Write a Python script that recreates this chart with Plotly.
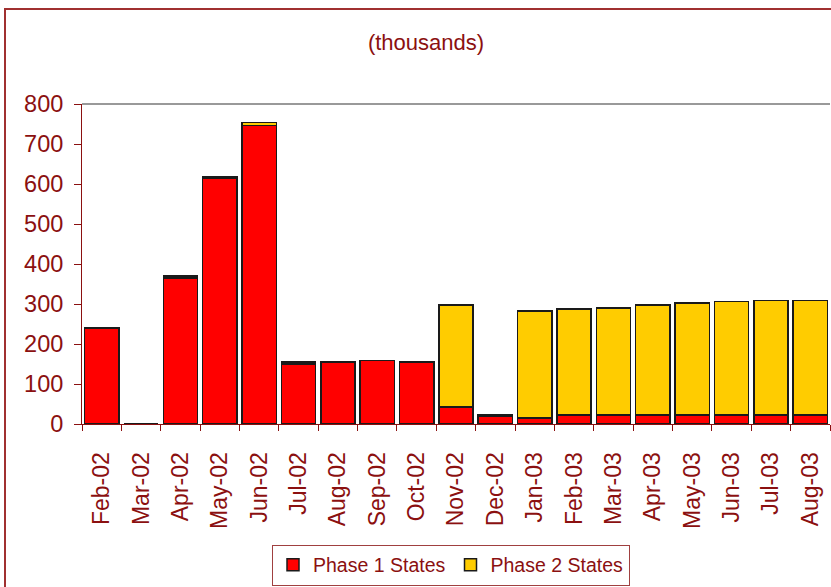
import plotly.graph_objects as go

months = ["Feb-02", "Mar-02", "Apr-02", "May-02", "Jun-02", "Jul-02", "Aug-02", "Sep-02",
          "Oct-02", "Nov-02", "Dec-02", "Jan-03", "Feb-03", "Mar-03", "Apr-03", "May-03",
          "Jun-03", "Jul-03", "Aug-03"]
phase1 = [240, 0, 365, 615, 746, 150, 155, 159, 155, 42, 19, 15, 22, 22, 22, 22, 22, 22, 22]
phase2 = [0, 0, 5, 4, 8, 5, 0, 0, 0, 256, 3, 268, 265, 268, 276, 280, 284, 287, 287]
y_ticks = [0, 100, 200, 300, 400, 500, 600, 700, 800]

TXT = "#8B1010"
FONT = "Liberation Sans, Arial, sans-serif"

fig = go.Figure()
fig.add_trace(go.Bar(x=months, y=phase1, name="Phase 1 States",
                     marker=dict(color="#FF0000", line=dict(color="#1a1a1a", width=1.5))))
fig.add_trace(go.Bar(x=months, y=phase2, name="Phase 2 States",
                     marker=dict(color="#FFCC00", line=dict(color="#1a1a1a", width=1.5))))

L, R, T, B = 82, 1, 104, 163
W, H = 831 - L - R, 587 - T - B

def px(x):
    return (x - L) / W

def py(y):
    return (587 - B - y) / H

fig.update_layout(
    width=831, height=587,
    barmode="stack", bargap=0.13,
    margin=dict(l=L, r=R, t=T, b=B, pad=0),
    paper_bgcolor="white", plot_bgcolor="white",
    font=dict(family=FONT, color=TXT, size=19),
    title=dict(text="(thousands)", x=426 / 831, xanchor="center", y=1 - 42 / 587, yanchor="middle",
               font=dict(size=22, color=TXT, family=FONT)),
    showlegend=True,
    legend=dict(orientation="h", traceorder="normal", x=px(451), xanchor="center", y=py(565),
                yanchor="middle", bordercolor="#A04040", borderwidth=1,
                font=dict(size=19.5, color=TXT), itemwidth=30),
    xaxis=dict(tickangle=-90, showline=True, linecolor=TXT, linewidth=1,
               ticks="outside", ticklen=6, tickcolor=TXT, tickson="boundaries",
               ticklabelstandoff=18,
               tickfont=dict(size=23, color=TXT), showgrid=False),
    yaxis=dict(range=[0, 800], tickvals=y_ticks, showline=True, linecolor=TXT, linewidth=1,
               ticks="outside", ticklen=7, tickcolor=TXT, showgrid=False, zeroline=False,
               ticklabelstandoff=6,
               tickfont=dict(size=23.5, color=TXT)),
    shapes=[
        dict(type="line", xref="paper", yref="paper", x0=0, x1=1, y0=1, y1=1,
             line=dict(color="#999999", width=2)),
        dict(type="rect", xref="paper", yref="paper", x0=px(5), x1=px(840), y0=py(9), y1=py(600),
             line=dict(color="#A03030", width=2)),
    ],
)

fig.write_html("out.html", config={"displayModeBar": False},
               post_script="document.body.style.margin='0';document.body.style.overflow='hidden';")
